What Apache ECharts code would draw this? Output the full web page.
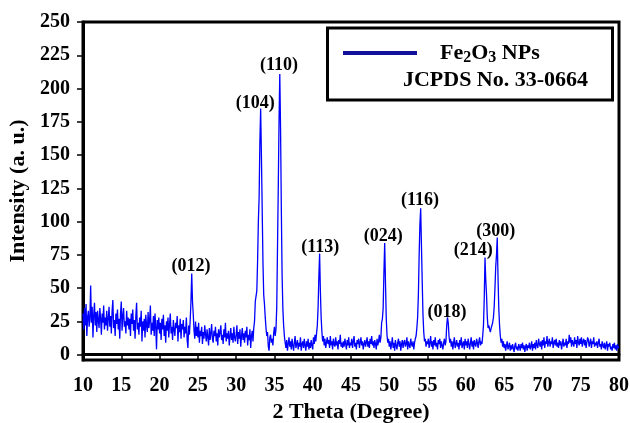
<!DOCTYPE html>
<html>
<head>
<meta charset="utf-8">
<script src="https://cdn.jsdelivr.net/npm/echarts@6/dist/echarts.min.js"></script>
<style>
  html, body { margin: 0; padding: 0; background: #fff; }
  #chart { width: 630px; height: 423px; }
</style>
</head>
<body>
<div id="chart"></div>
<script>
// XRD scan, 10-80 deg 2theta, one reading every 0.1 deg (one row per degree)
const thetaStart = 10;
const thetaStep = 0.1;
const intensity = [
  31,19,35,22,38,14,28,33,21,27,   // 10
  52,24,36,13,30,39,22,32,17,33,   // 11
  26,20,35,27,15,31,24,37,19,28,   // 12
  22,33,18,27,36,21,29,16,33,41,   // 13
  20,26,14,31,23,34,19,27,12,31,   // 14
  40,18,29,35,21,25,16,33,22,28,   // 15
  19,27,14,31,23,34,18,26,12,29,   // 16
  39,19,24,15,28,21,33,10,25,18,   // 17
  27,13,30,22,17,32,20,26,37,15,   // 18
  24,18,29,14,31,21,4,26,19,28,    // 19
  16,24,11,27,19,30,14,22,9,25,    // 20
  18,28,13,23,31,16,21,11,26,19,   // 21
  14,24,20,29,10,22,17,27,12,23,   // 22
  19,26,13,21,16,28,11,5,22,15,    // 23
  26,40,61,40,30,18,12,25,14,21,   // 24
  13,24,9,18,14,21,8,17,12,22,     // 25
  15,10,19,13,7,20,11,16,23,12,    // 26
  9,18,14,21,10,16,7,19,13,17,     // 27
  22,11,15,8,19,13,24,10,16,12,    // 28
  18,7,14,20,11,16,9,21,13,10,     // 29
  15,22,8,17,12,19,6,14,20,11,     // 30
  16,9,18,13,21,7,15,11,19,5,      // 31
  14,18,10,20,25,40,44,48,70,100,  // 32
  118,160,185,150,110,70,45,38,28,20, // 33
  14,17,6,3,13,15,9,12,7,16,       // 34
  21,14,19,35,80,125,175,211,170,110, // 35
  60,35,22,14,9,5,11,3,8,13,       // 36
  6,10,4,12,7,3,9,14,5,8,          // 37
  11,4,9,6,13,3,8,10,5,12,         // 38
  7,3,10,6,12,4,9,5,11,7,          // 39
  4,13,8,15,10,16,22,35,58,76,     // 40
  48,28,17,10,14,7,12,5,9,13,      // 41
  8,11,5,14,7,10,4,12,8,6,         // 42
  13,7,10,4,11,8,15,6,9,5,         // 43
  10,6,12,8,4,11,7,13,5,9,         // 44
  7,12,5,10,14,6,9,4,11,8,         // 45
  12,5,9,13,7,10,4,8,11,6,         // 46
  9,13,6,10,5,12,8,14,7,10,        // 47
  5,11,8,4,12,7,10,15,9,13,        // 48
  24,27,35,62,84,55,28,15,9,12,    // 49
  6,10,4,8,13,5,9,3,11,7,          // 50
  4,9,12,6,10,3,8,11,5,9,          // 51
  11,6,8,13,4,10,7,5,12,8,         // 52
  6,10,4,9,12,14,20,28,45,75,      // 53
  98,110,82,55,30,17,10,12,6,10,   // 54
  8,12,5,9,14,6,10,4,11,7,         // 55
  13,6,9,4,11,8,12,5,10,7,         // 56
  4,9,12,7,10,22,28,24,14,9,       // 57
  12,6,10,4,9,13,5,8,11,6,         // 58
  9,4,11,7,13,5,8,10,4,12,         // 59
  7,10,5,12,8,4,9,13,6,10,         // 60
  4,11,8,6,12,9,5,10,13,7,         // 61
  10,8,14,22,42,73,56,45,28,20,    // 62
  22,19,17,20,21,24,28,36,50,66,   // 63
  75,88,58,35,22,14,9,12,6,10,     // 64
  5,8,3,7,10,4,6,9,3,7,            // 65
  4,8,5,2,7,9,4,6,3,8,             // 66
  6,3,8,5,9,4,7,2,6,8,             // 67
  3,7,5,9,4,6,10,3,8,5,            // 68
  9,4,11,7,5,12,8,6,10,4,          // 69
  11,7,13,5,10,8,14,6,9,12,        // 70
  6,10,8,13,5,9,11,7,12,6,         // 71
  9,5,11,7,10,4,8,12,6,9,          // 72
  7,12,5,10,8,15,9,13,6,11,        // 73
  10,6,13,8,11,5,14,9,7,12,        // 74
  8,13,6,10,12,7,11,5,9,13,        // 75
  11,6,9,12,5,10,8,13,6,9,         // 76
  7,10,5,9,12,6,8,4,10,7,          // 77
  5,9,4,7,10,3,8,6,9,4,            // 78
  6,3,8,5,9,4,7,3,8,5,             // 79
  6                                // 80
];

// hkl labels and where they sit (2theta, height in a.u.)
const peakNames = ['(012)', '(104)', '(110)', '(113)', '(024)', '(116)', '(018)', '(214)', '(300)'];
const labelTheta = [24.1, 32.5, 35.6, 41.0, 49.2, 54.0, 57.55, 60.95, 63.9];
const labelHeight = [66.5, 189, 217.5, 81, 89, 116, 31.5, 78.5, 93];

const yTicks = [0, 25, 50, 75, 100, 125, 150, 175, 200, 225, 250];

const points = intensity.map((v, i) => [(thetaStart * 10 + i) * thetaStep, v]);
const labelPoints = peakNames.map((n, i) => [labelTheta[i], labelHeight[i], n]);

const serif = '"Liberation Serif", "Times New Roman", serif';

const chart = echarts.init(document.getElementById('chart'));
chart.setOption({
  animation: false,
  grid: {
    left: 83, right: 11, top: 22, bottom: 63,
    outerBoundsMode: 'none',
    show: true, borderColor: '#000', borderWidth: 3
  },
  xAxis: {
    type: 'value',
    min: 10, max: 80, interval: 5,
    name: '2 Theta (Degree)',
    nameLocation: 'middle',
    nameGap: 38,
    nameTextStyle: { fontFamily: serif, fontWeight: 'bold', fontSize: 22, color: '#000' },
    axisLine: { lineStyle: { color: '#000', width: 3 } },
    axisTick: { inside: false, length: 6, lineStyle: { color: '#000', width: 1.5 } },
    axisLabel: { margin: 16, fontFamily: serif, fontWeight: 'bold', fontSize: 20, color: '#000' },
    splitLine: { show: false }
  },
  yAxis: {
    type: 'value',
    min: -4, max: 250,
    name: 'Intensity (a. u.)',
    nameLocation: 'middle',
    nameGap: 54,
    nameTextStyle: { fontFamily: serif, fontWeight: 'bold', fontSize: 22, color: '#000' },
    axisLine: { lineStyle: { color: '#000', width: 3 } },
    axisTick: { inside: false, length: 6, customValues: yTicks, lineStyle: { color: '#000', width: 1.5 } },
    axisLabel: { margin: 13, customValues: yTicks, fontFamily: serif, fontWeight: 'bold', fontSize: 20, color: '#000' },
    splitLine: { show: false }
  },
  legend: {
    left: 338, top: 37,
    icon: 'rect',
    itemWidth: 74, itemHeight: 4,
    data: [{ name: 'Fe2O3', itemStyle: { color: '#10109a' } }],
    formatter: () => 'Fe{s|2}O{s|3} NPs',
    textStyle: {
      fontFamily: serif, fontWeight: 'bold', fontSize: 22, color: '#000',
      padding: [0, 0, 0, 18],
      rich: {
        s: { fontFamily: serif, fontWeight: 'bold', fontSize: 16, color: '#000', padding: [9, 0, 0, 0] }
      }
    }
  },
  graphic: [
    {
      type: 'rect', z: 0,
      shape: { x: 327.5, y: 28, width: 285, height: 72 },
      style: { fill: '#fff', stroke: '#000', lineWidth: 3 }
    },
    {
      type: 'text', z: 1,
      x: 495.5, y: 80,
      style: {
        text: 'JCPDS No. 33-0664',
        font: 'bold 22px ' + serif,
        fill: '#000', align: 'center', verticalAlign: 'middle'
      }
    }
  ],
  series: [
    {
      name: 'Fe2O3',
      type: 'line',
      data: points,
      showSymbol: false,
      symbol: 'none',
      lineStyle: { color: '#0000ff', width: 1.3 },
      itemStyle: { color: '#0000ff' },
      z: 2
    },
    {
      name: 'hkl',
      type: 'scatter',
      data: labelPoints,
      symbolSize: 0,
      silent: true,
      itemStyle: { opacity: 1 },
      label: {
        show: true, position: 'inside',
        formatter: p => p.data[2],
        fontFamily: serif, fontWeight: 'bold', fontSize: 18, color: '#000',
        textBorderWidth: 0
      },
      z: 3
    }
  ]
});
</script>
</body>
</html>
